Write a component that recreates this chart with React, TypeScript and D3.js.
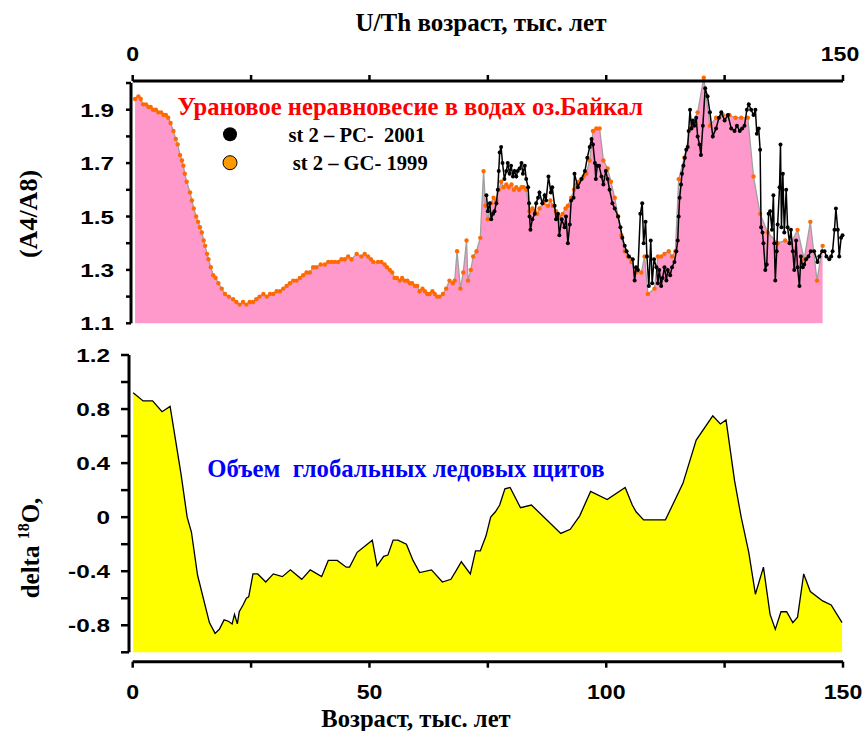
import React from "react";
import * as d3 from "d3";

// ---- data ----
// st 2 - GC-1999 (orange), age in kyr and (A4/A8)
const gcAge = [0.5, 1.2, 1.7, 2.2, 2.8, 3.3, 3.8, 4.3, 4.9, 5.4, 6.0, 6.5, 7.0, 7.5, 8.0, 8.6, 9.1, 9.5, 10.0, 10.4,
  10.7, 11.0, 11.4, 12.1, 12.5, 12.9, 13.4, 13.8, 14.2, 14.6, 15.0, 15.3, 15.7, 16.0, 16.5, 17.0, 17.5, 18.1, 18.8, 19.5,
  20.3, 21.2, 21.9, 22.6, 23.3, 24.0, 24.7, 25.4, 26.1, 26.8, 27.6, 28.3, 29.0, 29.7, 30.4, 31.1, 31.8, 32.5, 33.2, 33.9,
  34.6, 35.3, 36.0, 36.7, 37.4, 38.1, 38.8, 39.7, 40.6, 41.3, 42.0, 42.7, 43.4, 44.1, 44.8, 45.5, 46.2, 47.3, 48.3, 49.0,
  49.7, 50.3, 50.8, 51.8, 52.5, 53.2, 53.7, 54.3, 54.8, 55.3, 55.8, 56.4, 56.9, 57.4, 58.0, 58.5, 59.0, 59.6, 60.1, 60.6,
  61.2, 61.7, 62.2, 62.7, 63.3, 63.8, 64.3, 64.8, 65.5, 66.2, 66.9, 67.6, 68.0, 68.5, 69.2, 69.8, 70.5, 70.8, 71.4, 71.9,
  72.6, 73.4, 74.1, 74.5, 75.0, 75.7, 76.2, 76.8, 77.3, 77.8, 78.3, 78.9, 79.4, 80.0, 80.5, 81.0, 81.6, 82.1, 82.6, 83.1,
  83.8, 84.4, 84.9, 85.4, 85.9, 86.7, 87.7, 88.2, 88.7, 89.4, 90.1, 90.8, 91.4, 91.9, 92.6, 93.2, 93.7, 94.2, 94.7, 95.2,
  95.8, 96.5, 97.2, 97.9, 98.6, 99.4, 100.3, 101.0, 101.8, 102.5, 103.2, 103.9, 104.6, 105.3, 106.3, 107.4, 108.1, 108.8, 110.2, 110.9,
  111.6, 112.3, 113.2, 113.9, 114.6, 115.3, 116.5, 117.8, 119.3, 120.6, 121.9, 123.2, 124.6, 126.0, 127.3, 128.5, 129.9, 131.1, 132.5, 134.1,
  136.2, 137.8, 139.0, 140.4, 141.8, 143.1, 144.5, 145.7];
const gcVal = [1.94, 1.95, 1.94, 1.92, 1.92, 1.91, 1.91, 1.90, 1.90, 1.89, 1.89, 1.88, 1.88, 1.87, 1.85, 1.82, 1.79, 1.77, 1.73, 1.71,
  1.69, 1.66, 1.63, 1.59, 1.56, 1.53, 1.50, 1.48, 1.46, 1.44, 1.41, 1.39, 1.36, 1.34, 1.31, 1.28, 1.27, 1.25, 1.23, 1.21,
  1.20, 1.19, 1.18, 1.17, 1.18, 1.17, 1.18, 1.18, 1.19, 1.20, 1.21, 1.20, 1.21, 1.21, 1.22, 1.22, 1.23, 1.24, 1.25, 1.26,
  1.26, 1.27, 1.28, 1.29, 1.29, 1.31, 1.31, 1.32, 1.32, 1.33, 1.33, 1.33, 1.33, 1.34, 1.34, 1.35, 1.34, 1.36, 1.35, 1.36,
  1.35, 1.34, 1.33, 1.33, 1.33, 1.32, 1.31, 1.30, 1.29, 1.27, 1.27, 1.26, 1.27, 1.26, 1.26, 1.25, 1.25, 1.24, 1.24, 1.22,
  1.23, 1.22, 1.21, 1.21, 1.22, 1.21, 1.20, 1.20, 1.21, 1.23, 1.26, 1.25, 1.26, 1.37, 1.23, 1.29, 1.41, 1.26, 1.30, 1.35,
  1.37, 1.42, 1.67, 1.54, 1.49, 1.55, 1.57, 1.56, 1.60, 1.63, 1.61, 1.62, 1.61, 1.62, 1.60, 1.61, 1.60, 1.61, 1.61, 1.60,
  1.52, 1.53, 1.52, 1.51, 1.53, 1.55, 1.54, 1.56, 1.54, 1.52, 1.50, 1.51, 1.53, 1.54, 1.57, 1.60, 1.62, 1.63, 1.64, 1.65,
  1.66, 1.71, 1.82, 1.83, 1.83, 1.71, 1.68, 1.63, 1.57, 1.50, 1.43, 1.37, 1.35, 1.33, 1.29, 1.29, 1.35, 1.21, 1.23, 1.35,
  1.35, 1.36, 1.37, 1.35, 1.37, 1.64, 1.72, 1.83, 1.89, 2.02, 1.84, 1.87, 1.88, 1.88, 1.87, 1.87, 1.87, 1.65, 1.51, 1.44,
  1.40, 1.41, 1.40, 1.45, 1.34, 1.48, 1.26, 1.39];

// st 2 - PC-2001 (black)
const pcAge = [74.7, 75.0, 75.4, 75.7, 76.1, 76.4, 76.8, 77.1, 77.3, 77.5, 77.8, 78.1, 78.5, 78.9, 79.2, 79.6, 79.9, 80.3, 80.6, 81.0,
  81.3, 81.7, 82.1, 82.4, 82.8, 83.1, 83.5, 83.7, 83.8, 84.0, 84.4, 84.9, 85.2, 85.6, 85.9, 86.5, 87.0, 87.3, 87.8, 88.3,
  88.6, 89.1, 89.4, 89.8, 90.1, 90.6, 91.2, 91.5, 91.9, 92.3, 92.6, 93.1, 93.3, 94.0, 94.8, 95.5, 96.0, 96.5, 96.9, 97.2,
  97.6, 97.8, 98.1, 98.5, 99.0, 99.4, 99.9, 100.3, 100.7, 101.3, 101.8, 102.5, 103.0, 103.4, 103.9, 104.3, 104.8, 105.6, 106.0, 106.3,
  106.7, 107.2, 107.6, 107.9, 108.3, 108.6, 109.0, 109.4, 109.7, 110.1, 110.6, 110.9, 111.2, 111.6, 111.9, 112.3, 112.7, 113.0, 113.5, 113.9,
  114.4, 114.8, 115.1, 115.3, 115.5, 115.8, 116.0, 116.3, 116.6, 116.9, 117.2, 117.4, 117.7, 118.0, 118.3, 118.6, 119.0, 119.3, 119.7, 120.0,
  120.4, 120.9, 121.4, 121.9, 122.5, 123.2, 123.8, 124.3, 125.0, 125.7, 126.4, 127.1, 127.6, 128.2, 128.7, 129.2, 129.7, 130.1, 130.6, 131.1,
  131.5, 131.8, 132.2, 132.5, 132.7, 133.0, 133.2, 133.6, 133.9, 134.3, 134.6, 135.0, 135.3, 135.5, 135.7, 136.0, 136.2, 136.6, 136.8, 137.0,
  137.3, 137.6, 138.0, 138.3, 138.7, 139.0, 139.4, 139.7, 140.1, 140.4, 140.8, 141.1, 141.5, 141.8, 142.2, 142.7, 143.2, 143.9, 144.6, 145.0,
  145.6, 146.1, 146.5, 147.1, 147.5, 147.8, 148.2, 148.5, 148.9, 149.2, 149.6, 149.9];
const pcVal = [1.58, 1.52, 1.55, 1.49, 1.51, 1.52, 1.55, 1.60, 1.67, 1.74, 1.76, 1.70, 1.64, 1.67, 1.70, 1.66, 1.69, 1.65, 1.67, 1.65,
  1.67, 1.68, 1.70, 1.66, 1.69, 1.64, 1.61, 1.55, 1.50, 1.45, 1.49, 1.51, 1.55, 1.57, 1.59, 1.55, 1.58, 1.56, 1.65, 1.59,
  1.61, 1.54, 1.49, 1.51, 1.43, 1.49, 1.46, 1.50, 1.40, 1.47, 1.56, 1.57, 1.66, 1.61, 1.64, 1.67, 1.72, 1.76, 1.79, 1.77,
  1.70, 1.64, 1.69, 1.69, 1.65, 1.62, 1.67, 1.64, 1.60, 1.55, 1.53, 1.50, 1.46, 1.42, 1.39, 1.37, 1.35, 1.34, 1.26, 1.31,
  1.30, 1.51, 1.55, 1.40, 1.48, 1.35, 1.24, 1.41, 1.25, 1.34, 1.31, 1.25, 1.30, 1.24, 1.27, 1.31, 1.26, 1.30, 1.28, 1.31,
  1.33, 1.37, 1.41, 1.50, 1.57, 1.62, 1.66, 1.69, 1.72, 1.75, 1.76, 1.82, 1.90, 1.83, 1.86, 1.84, 1.87, 1.80, 1.77, 1.73,
  1.84, 1.98, 1.95, 1.89, 1.80, 1.83, 1.87, 1.89, 1.86, 1.88, 1.83, 1.82, 1.84, 1.82, 1.83, 1.84, 1.90, 1.92, 1.90, 1.88,
  1.90, 1.81, 1.83, 1.75, 1.46, 1.44, 1.40, 1.30, 1.32, 1.51, 1.52, 1.45, 1.58, 1.40, 1.26, 1.37, 1.47, 1.61, 1.77, 1.46,
  1.66, 1.44, 1.60, 1.46, 1.40, 1.45, 1.37, 1.30, 1.41, 1.31, 1.24, 1.35, 1.31, 1.32, 1.34, 1.35, 1.37, 1.37, 1.33, 1.35,
  1.37, 1.37, 1.35, 1.34, 1.35, 1.37, 1.45, 1.53, 1.45, 1.35, 1.42, 1.43];

// delta 18O (global ice volume)
const d18Age = [0.1, 2.2, 4.2, 6.2, 7.9, 10.2, 11.5, 12.4, 13.7, 16.2, 17.4, 18.3, 19.3, 20.2, 21.0, 21.5, 22.1, 22.5, 23.3, 24.0,
  24.5, 25.4, 26.4, 28.1, 29.7, 31.6, 33.3, 35.7, 37.5, 39.9, 41.3, 43.2, 45.1, 45.8, 47.4, 50.6, 51.6, 53.0, 53.9, 55.0,
  56.0, 57.8, 59.2, 60.6, 63.1, 65.4, 67.2, 68.4, 69.4, 71.3, 72.4, 73.4, 74.6, 75.6, 76.6, 77.5, 78.6, 79.7, 81.9, 84.2,
  90.4, 92.4, 94.4, 96.7, 100.2, 104.0, 105.5, 106.3, 107.9, 112.5, 116.2, 119.0, 122.5, 124.1, 125.3, 127.1, 128.5, 130.1, 131.5, 133.2,
  134.6, 135.7, 136.9, 138.1, 139.4, 140.4, 141.7, 143.1, 145.7, 147.5, 149.8];
const d18Val = [0.92, 0.86, 0.86, 0.78, 0.82, 0.32, 0.0, -0.11, -0.43, -0.78, -0.86, -0.83, -0.76, -0.77, -0.79, -0.72, -0.79, -0.70, -0.65, -0.60,
  -0.59, -0.42, -0.42, -0.48, -0.42, -0.44, -0.39, -0.46, -0.39, -0.44, -0.32, -0.32, -0.37, -0.37, -0.26, -0.17, -0.36, -0.29, -0.28, -0.17,
  -0.17, -0.20, -0.32, -0.41, -0.39, -0.48, -0.46, -0.39, -0.33, -0.42, -0.25, -0.25, -0.14, 0.0, 0.04, 0.09, 0.21, 0.22, 0.07, 0.09,
  -0.12, -0.09, 0.01, 0.19, 0.13, 0.22, 0.09, 0.04, -0.02, -0.02, 0.25, 0.57, 0.75, 0.69, 0.72, 0.27, 0.0, -0.26, -0.57, -0.37,
  -0.72, -0.83, -0.70, -0.70, -0.78, -0.74, -0.42, -0.55, -0.62, -0.65, -0.78];

const xTicks = [0, 25, 50, 75, 100, 125, 150];
const xLabels = [0, 50, 100, 150];
const topLabels = [0, 150];
const upTicks = [1.1, 1.2, 1.3, 1.4, 1.5, 1.6, 1.7, 1.8, 1.9, 2.0];
const upLabels = [1.1, 1.3, 1.5, 1.7, 1.9];
const lowTicks = [-1.0, -0.8, -0.6, -0.4, -0.2, 0, 0.2, 0.4, 0.6, 0.8, 1.0, 1.2];
const lowLabels = [-0.8, -0.4, 0, 0.4, 0.8, 1.2];

const SANS = "'Liberation Sans', Arial, sans-serif";
const SERIF = "'Liberation Serif', 'Times New Roman', serif";

type P = { a: number; v: number };

export default function App() {
  const W = 866, H = 731;
  const x = d3.scaleLinear().domain([0, 150]).range([132.7, 843]);
  const yUp = d3.scaleLinear().domain([1.1, 2.0]).range([323.3, 83]);
  const yLow = d3.scaleLinear().domain([-1.0, 1.2]).range([652.3, 355]);

  const gc: P[] = gcAge.map((a, i) => ({ a, v: gcVal[i] }));
  const pc: P[] = pcAge.map((a, i) => ({ a, v: pcVal[i] }));
  const d18: P[] = d18Age.map((a, i) => ({ a, v: d18Val[i] }));

  const gcArea = d3.area<P>().x(d => x(d.a)).y0(yUp(1.1)).y1(d => yUp(d.v));
  const upLine = d3.line<P>().x(d => x(d.a)).y(d => yUp(d.v));
  const lowArea = d3.area<P>().x(d => x(d.a)).y0(yLow(-1.0)).y1(d => yLow(d.v));
  const lowLine = d3.line<P>().x(d => x(d.a)).y(d => yLow(d.v));

  const upAxisX = 131, lowAxisX = 129;
  const botAxisY = 661.7, topAxisY = 81;
  const fmt = (v: number) => (Math.abs(v) < 1e-9 ? "0" : v.toFixed(1));

  return (
    <svg width={W} height={H} style={{ position: "absolute", left: 0, top: 0, background: "#fff" }}>
      {/* upper panel */}
      <path d={gcArea(gc) ?? ""} fill="#ff99cc" />
      <path d={upLine(gc) ?? ""} fill="none" stroke="#a0a0a0" strokeWidth={1.3} />
      {gc.map((d, i) => (
        <circle key={"g" + i} cx={x(d.a)} cy={yUp(d.v)} r={2.2} fill="#ff6a00" />
      ))}
      <path d={upLine(pc) ?? ""} fill="none" stroke="#000" strokeWidth={1.5} />
      {pc.map((d, i) => (
        <circle key={"p" + i} cx={x(d.a)} cy={yUp(d.v)} r={2} fill="#000" />
      ))}

      {/* top axis */}
      <line x1={x(0)} x2={x(150)} y1={topAxisY} y2={topAxisY} stroke="#000" strokeWidth={3} />
      {xTicks.map(t => (
        <line key={"tt" + t} x1={x(t)} x2={x(t)} y1={topAxisY} y2={topAxisY - 6} stroke="#000" strokeWidth={2.5} />
      ))}
      {topLabels.map(t => (
        <text key={"tl" + t} transform={`translate(${t === 150 ? x(t) - 3 : x(t)},61) scale(1.1,1)`} textAnchor="middle"
          fontFamily={SANS} fontWeight="bold" fontSize={21}>{t}</text>
      ))}
      <text x={481} y={30.5} textAnchor="middle" fontFamily={SERIF} fontWeight="bold" fontSize={25}>U/Th возраст, тыс. лет</text>

      {/* upper y axis */}
      <line x1={upAxisX} x2={upAxisX} y1={yUp(2.0)} y2={yUp(1.1)} stroke="#000" strokeWidth={3} />
      {upTicks.map(t => (
        <line key={"ut" + t} x1={upAxisX} x2={upAxisX - 5} y1={yUp(t)} y2={yUp(t)} stroke="#000" strokeWidth={2.5} />
      ))}
      {upLabels.map(t => (
        <text key={"ul" + t} transform={`translate(114,${yUp(t) + 7}) scale(1.28,1)`} textAnchor="end"
          fontFamily={SANS} fontWeight="bold" fontSize={19}>{fmt(t)}</text>
      ))}
      <text transform="translate(37,214) rotate(-90)" textAnchor="middle" fontFamily={SERIF} fontWeight="bold" fontSize={26}>(A4/A8)</text>

      {/* legend */}
      <text x={177.5} y={115} fontFamily={SERIF} fontWeight="bold" fontSize={24.6} fill="#ff0000">Урановое неравновесие в водах оз.Байкал</text>
      <circle cx={230} cy={134.3} r={7} fill="#000" />
      <text x={288.5} y={141.5} fontFamily={SERIF} fontWeight="bold" fontSize={20.6} style={{ whiteSpace: "pre" }}>st 2 – PC-  2001</text>
      <circle cx={230} cy={162.7} r={7} fill="#ff9900" stroke="#000" strokeWidth={1} />
      <text x={292.7} y={170} fontFamily={SERIF} fontWeight="bold" fontSize={20.6} style={{ whiteSpace: "pre" }}>st 2 – GC- 1999</text>

      {/* lower panel */}
      <path d={lowArea(d18) ?? ""} fill="#ffff00" />
      <path d={lowLine(d18) ?? ""} fill="none" stroke="#000" strokeWidth={1.3} />
      <text x={207.3} y={476.7} fontFamily={SERIF} fontWeight="bold" fontSize={24.7} fill="#0000ff" style={{ whiteSpace: "pre" }}>Объем  глобальных ледовых щитов</text>

      {/* lower y axis */}
      <line x1={lowAxisX} x2={lowAxisX} y1={yLow(1.2)} y2={yLow(-1.0)} stroke="#000" strokeWidth={3} />
      {lowTicks.map(t => (
        <line key={"lt" + t} x1={lowAxisX} x2={lowAxisX - 8} y1={yLow(t)} y2={yLow(t)} stroke="#000" strokeWidth={2.5} />
      ))}
      {lowLabels.map(t => (
        <text key={"ll" + t} transform={`translate(110,${yLow(t) + 7}) scale(1.28,1)`} textAnchor="end"
          fontFamily={SANS} fontWeight="bold" fontSize={19}>{fmt(t)}</text>
      ))}
      <text transform="translate(39,548) rotate(-90)" textAnchor="middle" fontFamily={SERIF} fontWeight="bold" fontSize={25}>
        delta <tspan fontSize={16} dy={-10}>18</tspan><tspan dy={10}>O,</tspan>
      </text>

      {/* bottom axis */}
      <line x1={x(0)} x2={x(150)} y1={botAxisY} y2={botAxisY} stroke="#000" strokeWidth={3} />
      {xTicks.map(t => (
        <line key={"bt" + t} x1={x(t)} x2={x(t)} y1={botAxisY} y2={botAxisY + 6} stroke="#000" strokeWidth={2.5} />
      ))}
      {xLabels.map(t => (
        <text key={"bl" + t} transform={`translate(${x(t)},699) scale(1.1,1)`} textAnchor="middle"
          fontFamily={SANS} fontWeight="bold" fontSize={21}>{t}</text>
      ))}
      <text x={416} y={727} textAnchor="middle" fontFamily={SERIF} fontWeight="bold" fontSize={24.6}>Возраст, тыс. лет</text>
    </svg>
  );
}
